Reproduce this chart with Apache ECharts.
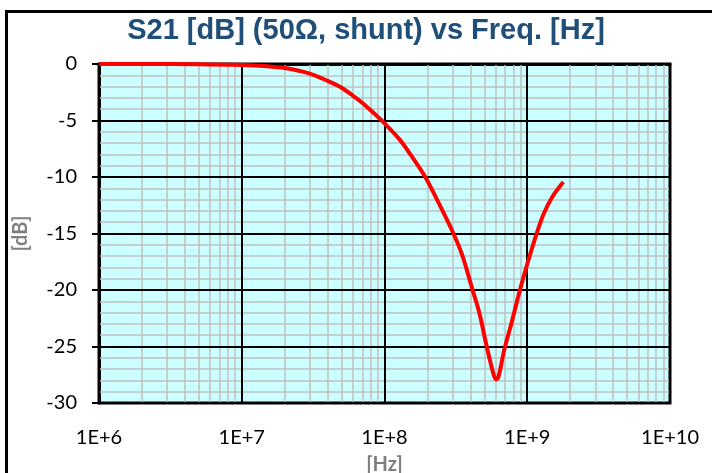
<!DOCTYPE html>
<html>
<head>
<meta charset="utf-8">
<script src="https://cdn.jsdelivr.net/npm/echarts@6/dist/echarts.min.js"></script>
<style>
html,body{margin:0;padding:0;background:#fff;}
#chart{width:712px;height:473px;}
</style>
</head>
<body>
<div id="chart"></div>
<script>
// Data
var freqHz = [1e6, 2e6, 5e6, 1e7, 1.5e7, 2e7, 3e7, 4e7, 5e7, 6e7, 7e7, 8e7, 1e8, 1.27e8, 1.5e8, 1.93e8, 2.43e8, 3.04e8, 3.5e8, 4.12e8, 4.61e8, 5.2e8, 5.6e8, 5.85e8, 6.04e8, 6.2e8, 6.45e8, 6.9e8, 7.8e8, 8.8e8, 1.0e9, 1.15e9, 1.3e9, 1.5e9, 1.79e9];
var s21dB  = [0, 0, -0.02, -0.09, -0.2, -0.36, -0.85, -1.5, -2.1, -2.8, -3.45, -4.1, -5.25, -6.65, -7.9, -10.0, -12.45, -15.0, -16.9, -19.9, -22.0, -25.0, -26.7, -27.6, -27.9, -27.85, -27.1, -25.3, -22.8, -20.2, -17.7, -15.2, -13.3, -11.75, -10.45];
var xDecades = [1e6, 1e7, 1e8, 1e9, 1e10];
var yTicks = [0, -5, -10, -15, -20, -25, -30];
var minorMultipliers = [2, 3, 4, 5, 6, 7, 8, 9];

var titleText = 'S21 [dB] (50\u03A9, shunt) vs Freq. [Hz]';
var xName = '[Hz]';
var yName = '[dB]';

var minorLines = [];
for (var d = 0; d < xDecades.length - 1; d++) {
  for (var m = 0; m < minorMultipliers.length; m++) {
    minorLines.push({xAxis: xDecades[d] * minorMultipliers[m]});
  }
}
for (var v = -1; v > -30; v--) {
  if (v % 5 !== 0) minorLines.push({yAxis: v});
}
var majorLines = [];
xDecades.forEach(function (x) { majorLines.push({xAxis: x}); });
yTicks.forEach(function (y) { majorLines.push({yAxis: y}); });

var curve = freqHz.map(function (f, i) { return [f, s21dB[i]]; });

var chart = echarts.init(document.getElementById('chart'), null, {renderer: 'canvas'});
chart.setOption({
  animation: false,
  backgroundColor: '#ffffff',
  title: {
    text: titleText,
    left: 361, top: 11, textAlign: 'center',
    textStyle: {fontFamily: 'Liberation Sans', fontWeight: 'bold', fontSize: 29, color: '#1F4E79'}
  },
  grid: {
    left: 99, right: 42, top: 64, bottom: 70,
    outerBoundsMode: 'none', containLabel: false,
    show: true, backgroundColor: '#CCFFFF', borderColor: '#000', borderWidth: 3
  },
  xAxis: {
    type: 'log', logBase: 10, min: 1e6, max: 1e10, interval: 1,
    name: xName, nameLocation: 'middle', nameGap: 52,
    nameTextStyle: {fontFamily: 'Lato', fontWeight: 'bold', fontSize: 20, color: '#7F7F7F'},
    axisLine: {show: true, lineStyle: {color: '#000', width: 3}},
    axisTick: {show: true, length: 7, lineStyle: {color: '#000', width: 2}},
    axisLabel: {margin: 25, fontFamily: 'Lato', fontSize: 20, color: '#000',
      formatter: function (v) { return '1E+' + Math.round(Math.log10(v)); }},
    splitLine: {show: false},
    minorTick: {show: false}
  },
  yAxis: {
    type: 'value', min: -30, max: 0, interval: 5,
    name: yName, nameLocation: 'middle', nameGap: 68, nameRotate: 90,
    nameTextStyle: {fontFamily: 'Lato', fontWeight: 'bold', fontSize: 20, color: '#7F7F7F'},
    axisLine: {show: true, onZero: false, lineStyle: {color: '#000', width: 3}},
    axisTick: {show: true, length: 7, lineStyle: {color: '#000', width: 2}},
    axisLabel: {margin: 22, fontFamily: 'Lato', fontSize: 20, color: '#000'},
    splitLine: {show: false}
  },
  graphic: [{
    type: 'rect', left: 4, top: 9, silent: true, z: -1,
    shape: {width: 900, height: 700},
    style: {fill: 'none', stroke: '#000', lineWidth: 3}
  }],
  series: [
    {
      type: 'line', data: [], z: 1, silent: true,
      markLine: {silent: true, symbol: 'none', animation: false, label: {show: false},
        lineStyle: {color: '#C0C0C0', width: 1.5, type: 'solid'}, emphasis: {disabled: true},
        data: minorLines}
    },
    {
      type: 'line', data: [], z: 2, silent: true,
      markLine: {silent: true, symbol: 'none', animation: false, label: {show: false},
        lineStyle: {color: '#000', width: 2, type: 'solid'}, emphasis: {disabled: true},
        data: majorLines}
    },
    {
      type: 'line', data: curve, z: 5, smooth: 0.3, showSymbol: false, symbol: 'none',
      lineStyle: {color: '#FF0000', width: 4}, clip: false
    }
  ]
});
</script>
</body>
</html>
